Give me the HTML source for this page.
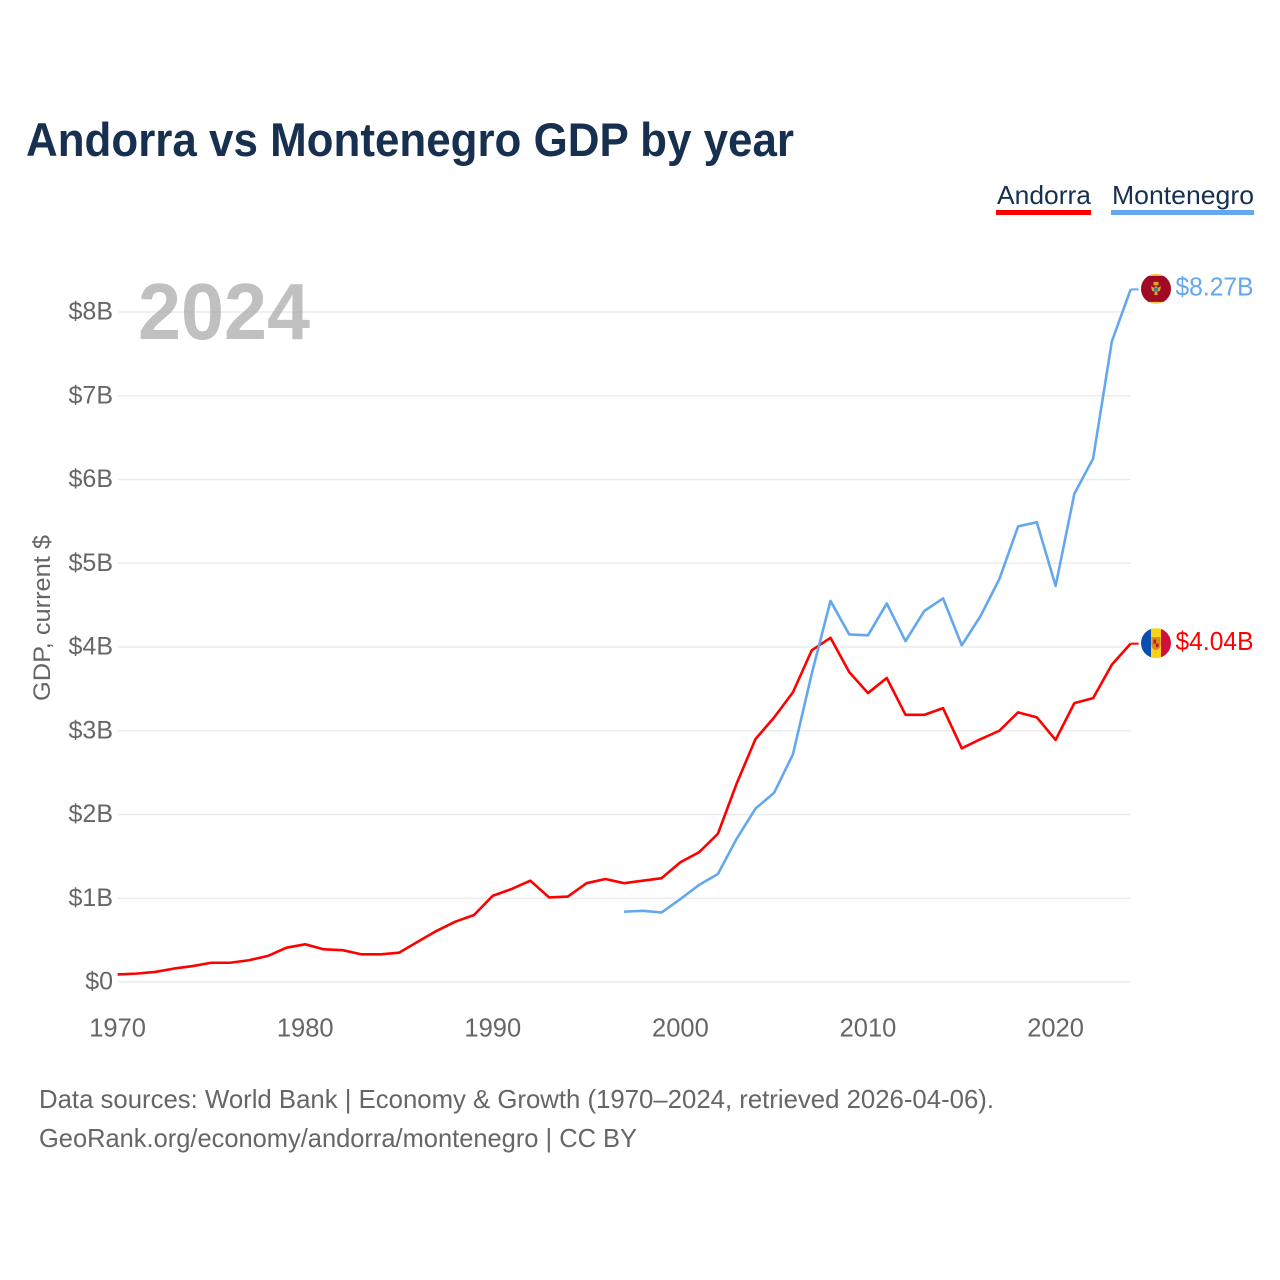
<!DOCTYPE html>
<html lang="en">
<head>
<meta charset="utf-8">
<title>Andorra vs Montenegro GDP by year</title>
<style>
html,body{margin:0;padding:0;background:#fff;width:1280px;height:1280px;overflow:hidden}
svg{display:block;font-family:"Liberation Sans",sans-serif}
</style>
</head>
<body>
<svg id="chart" xmlns="http://www.w3.org/2000/svg" width="1280" height="1280" viewBox="0 0 1280 1280">
  <text x="26" y="156" font-size="47" font-weight="700" fill="#17304f" textLength="768" lengthAdjust="spacingAndGlyphs">Andorra vs Montenegro GDP by year</text>

  <g>
    <g>
      <text x="997" y="204" font-size="26" fill="#17304f" textLength="94" lengthAdjust="spacingAndGlyphs">Andorra</text>
      <rect x="996" y="210" width="95" height="5" fill="#ff0000"></rect>
    </g>
    <g>
      <text x="1112" y="204" font-size="26" fill="#17304f" textLength="142" lengthAdjust="spacingAndGlyphs">Montenegro</text>
      <rect x="1111" y="210" width="143" height="5" fill="#63a8ee"></rect>
    </g>
  </g>

  <g id="grid"></g>
  <text x="138" y="339" font-size="80" font-weight="700" fill="#a8a8a8" fill-opacity="0.72" textLength="172" lengthAdjust="spacingAndGlyphs">2024</text>
  <g id="yticks"></g>
  <g id="xticks"></g>
  <text transform="translate(50,618) rotate(-90)" text-anchor="middle" font-size="24" fill="#666666" textLength="166" lengthAdjust="spacingAndGlyphs">GDP, current $</text>
  <g id="series"></g>

  <g id="flag-me">
    <defs>
      <clipPath id="clip-me"><circle cx="0" cy="0" r="15"></circle></clipPath>
      <clipPath id="clip-ad"><circle cx="0" cy="0" r="15"></circle></clipPath>
    </defs>
    <g clip-path="url(#clip-me)">
      <rect x="-15" y="-15" width="30" height="30" fill="#f3c94f"></rect>
      <rect x="-15" y="-13" width="30" height="26" fill="#a00a24"></rect>
      <path d="M-5-3 L-2-1 L0-3 L2-1 L5-3 L4 2 L1 3 L2 6 L-2 6 L-1 3 L-4 2Z" fill="#d9a92c"></path>
      <rect x="-2.5" y="-7" width="5" height="3.5" fill="#d9a92c"></rect>
      <rect x="-2" y="-1" width="4" height="3.5" fill="#3f7f8f"></rect>
    </g>
  </g>
  <g id="flag-ad">
    <g clip-path="url(#clip-ad)">
      <rect x="-15" y="-15" width="11" height="30" fill="#0a4fb0"></rect>
      <rect x="-5" y="-15" width="11" height="30" fill="#fcd116"></rect>
      <rect x="5" y="-15" width="10" height="30" fill="#d0103a"></rect>
      <path d="M-4.5-6 H4.5 V2 Q4.5 6 0 7 Q-4.5 6-4.5 2Z" fill="#d98a1e"></path>
      <rect x="-2.5" y="-3.5" width="2.5" height="4" fill="#c8102e"></rect>
      <rect x="0" y="0.5" width="2.5" height="3.5" fill="#c8102e"></rect>
    </g>
  </g>

  <text id="label-me" x="1175.5" font-size="26" fill="#63a8ee" textLength="78" lengthAdjust="spacingAndGlyphs"></text>
  <text id="label-ad" x="1175.5" font-size="26" fill="#ff0000" textLength="78" lengthAdjust="spacingAndGlyphs"></text>

  <g>
    <text x="39" y="1108" font-size="26" fill="#666666" textLength="955" lengthAdjust="spacingAndGlyphs">Data sources: World Bank | Economy &amp; Growth (1970–2024, retrieved 2026-04-06).</text>
    <text x="39" y="1147" font-size="26" fill="#666666" textLength="598" lengthAdjust="spacingAndGlyphs">GeoRank.org/economy/andorra/montenegro | CC BY</text>
  </g>
</svg>
<script>
const yearsAndorra = [1970,1971,1972,1973,1974,1975,1976,1977,1978,1979,1980,1981,1982,1983,1984,1985,1986,1987,1988,1989,1990,1991,1992,1993,1994,1995,1996,1997,1998,1999,2000,2001,2002,2003,2004,2005,2006,2007,2008,2009,2010,2011,2012,2013,2014,2015,2016,2017,2018,2019,2020,2021,2022,2023,2024];
const valuesAndorra = [0.09,0.10,0.12,0.16,0.19,0.23,0.23,0.26,0.31,0.41,0.45,0.39,0.38,0.33,0.33,0.35,0.48,0.61,0.72,0.80,1.03,1.11,1.21,1.01,1.02,1.18,1.23,1.18,1.21,1.24,1.43,1.55,1.77,2.37,2.90,3.16,3.46,3.96,4.11,3.70,3.45,3.63,3.19,3.19,3.27,2.79,2.90,3.00,3.22,3.16,2.89,3.33,3.39,3.79,4.04];
const yearsMontenegro = [1997,1998,1999,2000,2001,2002,2003,2004,2005,2006,2007,2008,2009,2010,2011,2012,2013,2014,2015,2016,2017,2018,2019,2020,2021,2022,2023,2024];
const valuesMontenegro = [0.84,0.85,0.83,0.99,1.16,1.29,1.71,2.07,2.26,2.72,3.68,4.55,4.15,4.14,4.52,4.07,4.43,4.58,4.02,4.37,4.81,5.44,5.49,4.73,5.83,6.25,7.65,8.27];
const yTickValues = [0,1,2,3,4,5,6,7,8];
const yTickLabels = ['$0','$1B','$2B','$3B','$4B','$5B','$6B','$7B','$8B'];
const xTickValues = [1970,1980,1990,2000,2010,2020];
const xTickLabels = ['1970','1980','1990','2000','2010','2020'];

const NS = 'http://www.w3.org/2000/svg';
const xScale = function (year) { return 117.6 + (year - 1970) * 18.76; };
const yScale = function (value) { return 982 - value * 83.75; };
const lastOf = function (arr) { return arr[arr.length - 1]; };

function make(parent, tag, attrs) {
  const el = document.createElementNS(NS, tag);
  Object.keys(attrs).forEach(function (k) { el.setAttribute(k, attrs[k]); });
  parent.appendChild(el);
  return el;
}

const grid = document.getElementById('grid');
const yticks = document.getElementById('yticks');
yTickValues.forEach(function (v, i) {
  const line = make(grid, 'line', {x1: 118, x2: 1131, y1: yScale(v), y2: yScale(v), stroke: '#ececec', 'stroke-width': 1.5});
  
  
  const t = make(yticks, 'text', {x: 113, y: yScale(v) + 7.5, 'text-anchor': 'end', 'font-size': 25, fill: '#666666'});
  
  
  t.textContent = yTickLabels[i];
});

const xticks = document.getElementById('xticks');
xTickValues.forEach(function (v, i) {
  const t = make(xticks, 'text', {x: xScale(v), y: 1036.5, 'text-anchor': 'middle', 'font-size': 25.5, fill: '#666666'});
  
  
  t.textContent = xTickLabels[i];
});

function drawSeries(years, values, color, seriesName) {
  const g = document.getElementById('series');
  const pts = years.map(function (y, i) { return xScale(y).toFixed(2) + ',' + yScale(values[i]).toFixed(2); });
  const line = make(g, 'polyline', {points: pts.join(' '), fill: 'none', stroke: color, 'stroke-width': 2.6, 'stroke-linejoin': 'round'});
  
  
  const yEnd = yScale(lastOf(values));
  const xEnd = xScale(lastOf(years));
  const lead = make(g, 'line', {x1: xEnd, x2: xEnd + 8, y1: yEnd, y2: yEnd, stroke: color, 'stroke-width': 2});
  
  
  return yEnd;
}

function formatValue(v) { return '$' + v.toFixed(2) + 'B'; }

const yAd = drawSeries(yearsAndorra, valuesAndorra, '#ff0000', 'andorra-line');
const yMe = drawSeries(yearsMontenegro, valuesMontenegro, '#63a8ee', 'montenegro-line');

document.getElementById('flag-ad').setAttribute('transform', 'translate(1156,' + (yAd - 0.5) + ')');
document.getElementById('flag-me').setAttribute('transform', 'translate(1156,' + (yMe - 0.5) + ')');
const labelAd = document.getElementById('label-ad');
labelAd.setAttribute('y', yAd + 6.5);
labelAd.textContent = formatValue(lastOf(valuesAndorra));
const labelMe = document.getElementById('label-me');
labelMe.setAttribute('y', yMe + 6);
labelMe.textContent = formatValue(lastOf(valuesMontenegro));
</script>
</body>
</html>
